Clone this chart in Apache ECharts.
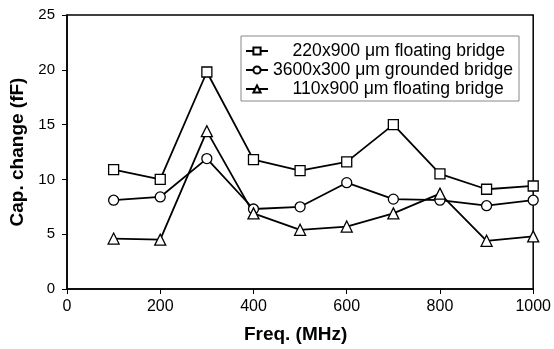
<!DOCTYPE html>
<html>
<head>
<meta charset="utf-8">
<script src="https://cdn.jsdelivr.net/npm/echarts@6/dist/echarts.min.js"></script>
<style>
	html, body { margin:0; padding:0; background:#fff; }
	#chart { width:554px; height:349px; }
</style>
</head>
<body>
<div id="chart"></div>
<script>
var freqs = [100, 200, 300, 400, 500, 600, 700, 800, 900, 1000];
var floating220 = [10.9, 10.0, 19.8, 11.8, 10.8, 11.6, 15.0, 10.5, 9.1, 9.4];
var grounded3600 = [8.1, 8.4, 11.9, 7.3, 7.5, 9.7, 8.2, 8.1, 7.6, 8.1];
var floating110 = [4.6, 4.5, 14.4, 6.9, 5.4, 5.7, 6.9, 8.7, 4.4, 4.8];

var seriesNames = [
	'220x900 \u03bcm floating bridge',
	'3600x300 \u03bcm grounded bridge',
	'110x900 \u03bcm floating bridge'
];
// leading blanks to line up the legend text like the original
var legendPad = ['    ', '', '    '];

var font = '"Liberation Sans", Arial, sans-serif';

var toPairs = function(ys){
	var out = [];
	for( var i = 0; i < freqs.length; i++ ){
		out.push( [freqs[i], ys[i]] );
	}
	return out;
};

var makeSeries = function(name, ys, symbol, size){
	return {
		name:name,
		type:'line',
		data:toPairs( ys ),
		symbol:symbol,
		symbolSize:size,
		showAllSymbol:true,
		lineStyle:{ color:'#000', width:1.8 },
		itemStyle:{ color:'#fff', borderColor:'#000', borderWidth:1.3 },
		emphasis:{ disabled:true },
		z:2
	};
};

var chart = echarts.init( document.getElementById( 'chart' ) );
chart.setOption( {
	animation:false,
	backgroundColor:'#fff',
	grid:{
		left:67, right:20, top:15, bottom:56,
		show:true, borderColor:'#000', borderWidth:1.5
	},
	legend:{
		left:241, top:36,
		orient:'vertical',
		padding:[6, 6, 3, 4],
		itemWidth:22, itemHeight:9,
		itemGap:1,
		itemTextGap:-4,
		borderColor:'#888', borderWidth:1,
		backgroundColor:'#fff',
		data:seriesNames,
		formatter:function(name){
			return legendPad[seriesNames.indexOf( name )] + name;
		},
		textStyle:{ fontFamily:font, fontSize:17.6, color:'#000' }
	},
	xAxis:{
		type:'value',
		min:0, max:1000, interval:200,
		name:'Freq. (MHz)',
		nameLocation:'middle',
		nameGap:36,
		nameTextStyle:{ fontFamily:font, fontSize:19, fontWeight:'bold', color:'#000', padding:[0, 9, 0, 0] },
		axisLine:{ lineStyle:{ color:'#000', width:1.5 } },
		axisTick:{ show:true, length:5, lineStyle:{ color:'#000' } },
		axisLabel:{
			fontFamily:font, fontSize:16, color:'#000', margin:10,
			formatter:function(v){ return String( v ); }
		},
		splitLine:{ show:false }
	},
	yAxis:{
		type:'value',
		min:0, max:25, interval:5,
		name:'Cap. change (fF)',
		nameLocation:'middle',
		nameGap:22,
		nameTextStyle:{ fontFamily:font, fontSize:19, fontWeight:'bold', color:'#000' },
		axisLine:{ show:true, lineStyle:{ color:'#000', width:1.5 } },
		axisTick:{ show:true, length:5, lineStyle:{ color:'#000' } },
		axisLabel:{ fontFamily:font, fontSize:15, color:'#000', margin:12 },
		splitLine:{ show:false }
	},
	series:[
		makeSeries( seriesNames[0], floating220, 'rect', 10 ),
		makeSeries( seriesNames[1], grounded3600, 'circle', 10 ),
		makeSeries( seriesNames[2], floating110, 'triangle', 11 )
	]
} );
</script>
</body>
</html>
